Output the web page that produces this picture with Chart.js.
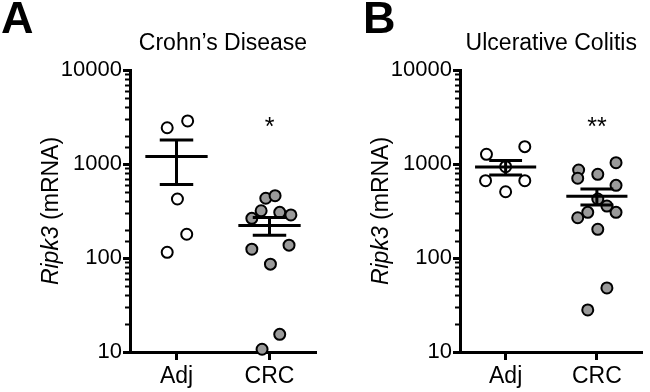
<!DOCTYPE html>
<html>
<head>
<meta charset="utf-8">
<script src="https://cdn.jsdelivr.net/npm/chart.js@4.4.0/dist/chart.umd.min.js"></script>
<style>
  html, body { margin: 0; padding: 0; background: #fff; }
  #wrap { position: relative; width: 650px; height: 392px; }
  #panelA { position: absolute; left: 0; top: 0; }
  #panelB { position: absolute; left: 330px; top: 0; }
</style>
</head>
<body>
<div id="wrap">
  <canvas id="panelA" width="330" height="392"></canvas>
  <canvas id="panelB" width="320" height="392"></canvas>
</div>
<script>
(function () {
  "use strict";

  // ---- data (Ripk3 mRNA, log scale) ----
  const GROUPS = ["Adj", "CRC"];
  const Y_MIN = 10;
  const Y_MAX = 10000;

  // Crohn's disease
  const crohnAdj = [2430, 2870, 424, 179, 115];
  const crohnAdjJitter = [-0.1, 0.12, 0.01, 0.11, -0.1];
  const crohnCrc = [432, 460, 318, 264, 306, 287, 124, 137, 86, 15.4, 10.7];
  const crohnCrcJitter = [-0.04, 0.06, -0.09, -0.19, 0.11, 0.23, -0.19, 0.21, 0.01, 0.11, -0.08];

  // Ulcerative colitis
  const ucAdj = [1268, 1528, 936, 664, 664, 507];
  const ucAdjJitter = [-0.21, 0.21, 0, -0.22, 0.21, 0];
  const ucCrc = [863, 705, 777, 1032, 593, 424, 357, 306, 268, 306, 202, 48, 28];
  const ucCrcJitter = [-0.2, -0.21, 0.01, 0.21, 0.21, 0.01, 0.11, -0.1, -0.21, 0.21, 0.01, 0.11, -0.1];

  const FONT = '"Liberation Sans", Arial, Helvetica, sans-serif';
  const GREY = "#9a9a9a";

  // ---------------------------------------------------------------- helpers

  function mean(a) {
    return a.reduce((s, v) => s + v, 0) / a.length;
  }

  function sem(a) {
    const m = mean(a);
    const ss = a.reduce((s, v) => s + (v - m) * (v - m), 0);
    return Math.sqrt(ss / (a.length - 1)) / Math.sqrt(a.length);
  }

  function isDecade(v) {
    const l = Math.log10(v);
    return Math.abs(l - Math.round(l)) < 1e-9;
  }

  function pointsOf(values, jitter, pos) {
    return values.map((v, i) => ({ x: pos + jitter[i], y: v }));
  }

  /** Mean line + SEM whiskers as one broken line (nulls split segments). */
  function errorBars(groups) {
    const out = [];
    const gap = (x) => out.push({ x: x, y: null });
    groups.forEach(function (values, i) {
      const pos = i + 1;
      const m = mean(values);
      const s = sem(values);
      out.push({ x: pos - 0.335, y: m }, { x: pos + 0.335, y: m }); gap(pos);
      out.push({ x: pos, y: m + s }, { x: pos, y: m - s }); gap(pos);
      out.push({ x: pos - 0.18, y: m + s }, { x: pos + 0.18, y: m + s }); gap(pos);
      out.push({ x: pos - 0.18, y: m - s }, { x: pos + 0.18, y: m - s }); gap(pos);
    });
    return out;
  }

  // ---------------------------------------------------------------- plugins

  // Short minor ticks on the log axis (Chart.js tickLength is not per-tick).
  const minorTicks = {
    id: "minorTicks",
    beforeDatasetsDraw(chart) {
      const y = chart.scales.y;
      const ctx = chart.ctx;
      const x0 = chart.chartArea.left;
      ctx.save();
      ctx.strokeStyle = "#000";
      ctx.lineWidth = 2;
      y.ticks.forEach(function (t) {
        if (isDecade(t.value)) return;
        const py = Math.round(y.getPixelForValue(t.value)) + 0.5;
        ctx.beginPath();
        ctx.moveTo(x0 - 5, py);
        ctx.lineTo(x0, py);
        ctx.stroke();
      });
      ctx.restore();
    },
  };

  // Panel letter, title, significance stars and the mixed-style y title.
  const panelText = {
    id: "panelText",
    afterDraw(chart, args, opts) {
      const ctx = chart.ctx;
      const area = chart.chartArea;
      const cx = (area.left + area.right) / 2;
      ctx.save();
      ctx.fillStyle = "#000";
      ctx.textBaseline = "alphabetic";

      ctx.font = "bold 45px " + FONT;
      ctx.textAlign = "left";
      ctx.fillText(opts.letter, opts.letterX, 33);

      ctx.font = "23px " + FONT;
      ctx.textAlign = "center";
      ctx.fillText(opts.title, cx, 50);

      ctx.font = "25px " + FONT;
      ctx.fillText(opts.stars, chart.scales.x.getPixelForValue(2), 135);

      // y title: italic gene name + plain unit
      const it = "italic 23px " + FONT;
      const rm = "23px " + FONT;
      ctx.font = it;
      const w1 = ctx.measureText("Ripk3").width;
      ctx.font = rm;
      const w2 = ctx.measureText(" (mRNA)").width;
      ctx.translate(58, (area.top + area.bottom) / 2);
      ctx.rotate(-Math.PI / 2);
      ctx.textAlign = "left";
      ctx.font = it;
      ctx.fillText("Ripk3", -(w1 + w2) / 2, 0);
      ctx.font = rm;
      ctx.fillText(" (mRNA)", -(w1 + w2) / 2 + w1, 0);
      ctx.restore();
    },
  };

  // ----------------------------------------------------------------- charts

  function makePanel(canvasId, adj, adjJitter, crc, crcJitter, text, padRight) {
    const ctx = document.getElementById(canvasId).getContext("2d");
    return new Chart(ctx, {
      type: "scatter",
      data: {
        datasets: [
          {
            type: "line",
            data: errorBars([adj, crc]),
            borderColor: "#000",
            borderWidth: 3,
            borderCapStyle: "butt",
            pointRadius: 0,
            spanGaps: false,
            clip: false,
          },
          {
            data: pointsOf(adj, adjJitter, 1),
            backgroundColor: "#fff",
            borderColor: "#000",
            borderWidth: 2,
            pointRadius: 5.5,
            clip: false,
          },
          {
            data: pointsOf(crc, crcJitter, 2),
            backgroundColor: GREY,
            borderColor: "#000",
            borderWidth: 2,
            pointRadius: 5.5,
            clip: false,
          },
        ],
      },
      options: {
        responsive: false,
        animation: false,
        events: [],
        devicePixelRatio: 1,
        layout: { padding: { top: 70, right: padRight, bottom: 0, left: 0 } },
        plugins: {
          legend: { display: false },
          tooltip: { enabled: false },
          panelText: text,
        },
        scales: {
          x: {
            type: "linear",
            min: 0.5,
            max: 2.5,
            afterBuildTicks(s) {
              s.ticks = GROUPS.map((g, i) => ({ value: i + 1 }));
            },
            afterFit(s) {
              s.height = 40;
              s.paddingLeft = 0;
              s.paddingRight = 0;
            },
            ticks: {
              color: "#000",
              font: { family: FONT, size: 23 },
              padding: 3,
              maxRotation: 0,
              callback: (v) => GROUPS[Math.round(v) - 1] || "",
            },
            grid: {
              drawOnChartArea: false,
              tickLength: 8,
              tickWidth: 3,
              tickColor: "#000",
            },
            border: { display: true, color: "#000", width: 3 },
          },
          y: {
            type: "logarithmic",
            min: Y_MIN,
            max: Y_MAX,
            afterFit(s) {
              s.width = 130;
              s.paddingTop = 0;
              s.paddingBottom = 0;
            },
            ticks: {
              color: "#000",
              font: { family: FONT, size: 22 },
              padding: 1,
              autoSkip: false,
              callback: (v) => (isDecade(v) ? String(v) : ""),
            },
            grid: {
              drawOnChartArea: false,
              tickLength: 7,
              tickWidth: 3,
              tickColor: (c) => (c.tick && isDecade(c.tick.value) ? "#000" : "rgba(0,0,0,0)"),
            },
            border: { display: true, color: "#000", width: 3 },
          },
        },
      },
      plugins: [minorTicks, panelText],
    });
  }

  makePanel("panelA", crohnAdj, crohnAdjJitter, crohnCrc, crohnCrcJitter,
    { letter: "A", letterX: 1, title: "Crohn\u2019s Disease", stars: "*" }, 14);
  makePanel("panelB", ucAdj, ucAdjJitter, ucCrc, ucCrcJitter,
    { letter: "B", letterX: 33, title: "Ulcerative Colitis", stars: "**" }, 4);
})();
</script>
</body>
</html>
